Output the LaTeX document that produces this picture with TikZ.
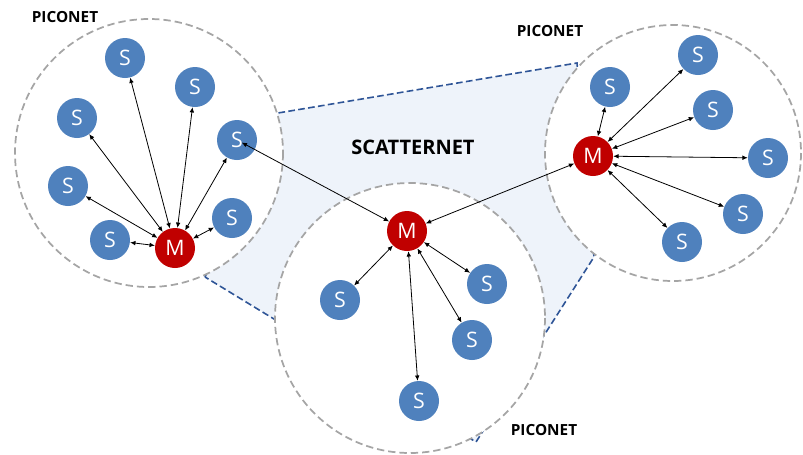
\documentclass[tikz,border=0pt]{standalone}
\usepackage{fontspec}
\setmainfont{Open Sans}
\usetikzlibrary{arrows.meta}

\definecolor{slaveblue}{RGB}{79,129,189}
\definecolor{masterred}{RGB}{192,0,0}
\definecolor{netblue}{RGB}{47,85,151}
\definecolor{netfill}{RGB}{238,243,250}
\definecolor{picogray}{RGB}{165,165,165}

\begin{document}
\begin{tikzpicture}[x=0.75pt,y=0.75pt,yscale=-1,xscale=1,
   	slave/.style={circle,fill=slaveblue,text=white,minimum size=30pt,inner sep=0pt,font=\fontsize{16}{16}\selectfont},
   	master/.style={slave,fill=masterred},
   	link/.style={{Latex[length=4pt,width=3.5pt]}-{Latex[length=4pt,width=3.5pt]},line width=0.6pt,black},
   	piconet/.style={draw=picogray,dash pattern=on 5.5pt off 3pt,line width=1.3pt,fill=white},
   	netname/.style={font=\bfseries\fontsize{11.5}{11.5}\selectfont}]
   	\useasboundingbox (0,0) rectangle (803,454);
   	
   	%scatternet area
   	\draw [netblue,fill=netfill,dash pattern=on 5pt off 2.5pt,line width=1.2pt] (205,277) -- (278,113) -- (577,63) -- (594,257) -- (476,442) -- cycle;
   	
   	%piconets
   	\draw [piconet] (149,153) circle [radius=134];
   	\draw [piconet] (410,318) circle [radius=135];
   	\draw [piconet] (673,153) circle [radius=128];
   	
   	\node [netname] (lpico) at (65,17) {PICONET};
   	\node [netname] (rpico) at (550,31) {PICONET};
   	\node [netname] (cpico) at (544,430) {PICONET};
   	\node [netname,font=\bfseries\fontsize{15}{15}\selectfont] (scatter) at (413,147) {SCATTERNET};
   	
   	%left piconet
   	\node [master] (lm) at (175,248) {M};
   	\node [slave] (ls1) at (125,58) {S};
   	\node [slave] (ls2) at (195,87) {S};
   	\node [slave] (ls3) at (77,118) {S};
   	\node [slave] (ls4) at (237,140) {S};
   	\node [slave] (ls5) at (68,186) {S};
   	\node [slave] (ls6) at (232,218) {S};
   	\node [slave] (ls7) at (110,240) {S};
   	
   	%center piconet
   	\node [master] (cm) at (407,231) {M};
   	\node [slave] (cs1) at (340,300) {S};
   	\node [slave] (cs2) at (487,284) {S};
   	\node [slave] (cs3) at (472,340) {S};
   	\node [slave] (cs4) at (419,401) {S};
   	
   	%right piconet
   	\node [master] (rm) at (593,156) {M};
   	\node [slave] (rs1) at (610,87) {S};
   	\node [slave] (rs2) at (698,55) {S};
   	\node [slave] (rs3) at (713,110) {S};
   	\node [slave] (rs4) at (768,158) {S};
   	\node [slave] (rs5) at (743,214) {S};
   	\node [slave] (rs6) at (682,242) {S};
   	
   	\foreach \i in {1,...,7} \draw [link] (lm) -- (ls\i);
   	\foreach \i in {1,...,4} \draw [link] (cm) -- (cs\i);
   	\foreach \i in {1,...,6} \draw [link] (rm) -- (rs\i);
   	
   	\draw [link,shorten >=4pt] (cm) -- (ls4.center);
   	\draw [link] (cm) -- (rm);
   	
\end{tikzpicture}
\end{document}
